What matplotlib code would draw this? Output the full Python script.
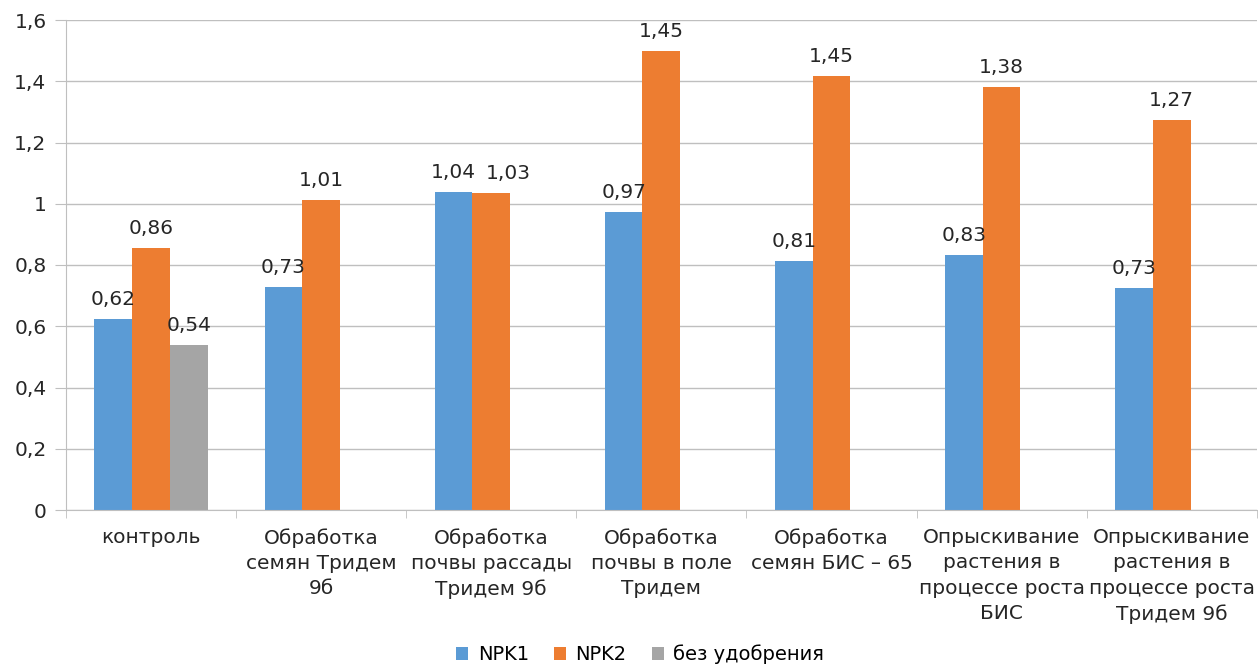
import matplotlib
matplotlib.use("Agg")
import matplotlib.pyplot as plt
import numpy as np

categories = [
    "контроль",
    "Обработка\nсемян Тридем\n9б",
    "Обработка\nпочвы рассады\nТридем 9б",
    "Обработка\nпочвы в поле\nТридем",
    "Обработка\nсемян БИС – 65",
    "Опрыскивание\nрастения в\nпроцессе роста\nБИС",
    "Опрыскивание\nрастения в\nпроцессе роста\nТридем 9б",
]
series_names = ["NPK1", "NPK2", "без удобрения"]
npk1 = [0.624, 0.728, 1.038, 0.973, 0.813, 0.833, 0.725]
npk2 = [0.855, 1.012, 1.035, 1.499, 1.417, 1.381, 1.273]
no_fert = [0.539, None, None, None, None, None, None]
npk1_labels = ["0,62", "0,73", "1,04", "0,97", "0,81", "0,83", "0,73"]
npk2_labels = ["0,86", "1,01", "1,03", "1,45", "1,45", "1,38", "1,27"]
no_fert_labels = ["0,54", "", "", "", "", "", ""]
yticks = [0, 0.2, 0.4, 0.6, 0.8, 1.0, 1.2, 1.4, 1.6]
ytick_labels = ["0", "0,2", "0,4", "0,6", "0,8", "1", "1,2", "1,4", "1,6"]

colors = ["#5B9BD5", "#ED7D31", "#A5A5A5"]
txt = "#262626"

plt.rcParams['font.family'] = ['DejaVu Sans']
fig = plt.figure(figsize=(12.58, 6.66), dpi=100)
ax = fig.add_axes([66/1258, 156/666, 1 - 66/1258 - 0.001, (510-20)/666])

x = np.arange(len(categories))
w = 0.222
all_series = [npk1, npk2, no_fert]
all_labels = [npk1_labels, npk2_labels, no_fert_labels]
for i, (vals, labs) in enumerate(zip(all_series, all_labels)):
    xs = x + (i - 1) * w
    v = np.array([np.nan if a is None else a for a in vals], dtype=float)
    ax.bar(xs, np.nan_to_num(v), width=w, color=colors[i], label=series_names[i], zorder=2)
    for k, (xi, vi, li) in enumerate(zip(xs, v, labs)):
        if not np.isnan(vi) and li:
            dx = 0
            # nudge neighbouring labels apart where two bars are nearly equal
            if i == 1 and k < len(npk1) and abs(npk1[k] - vi) < 0.05:
                dx = 12
            ax.annotate(li, (xi, vi), xytext=(dx, 7), textcoords="offset points",
                        ha="center", va="bottom", fontsize=14.5, color=txt)

ax.set_xlim(-0.5, len(categories) - 0.5)
ax.set_ylim(0, 1.6)
ax.set_yticks(yticks)
ax.set_yticklabels(ytick_labels, fontsize=14.5, color=txt)
ax.yaxis.grid(True, color="#BFBFBF", linewidth=1, zorder=0)
ax.set_axisbelow(True)

ax.set_xticks(x)
ax.set_xticklabels(categories, fontsize=14.5, color=txt, linespacing=1.42, va="top")
ax.set_xticks(np.arange(len(categories) + 1) - 0.5, minor=True)
ax.tick_params(axis="x", which="major", length=0, pad=13)
ax.tick_params(axis="x", which="minor", length=6, color="#BFBFBF")
ax.tick_params(axis="y", length=8, color="#BFBFBF", pad=6)

for s in ["top", "right"]:
    ax.spines[s].set_visible(False)
ax.spines["left"].set_color("#BFBFBF")
ax.spines["bottom"].set_color("#BFBFBF")

fig.legend(loc="lower center", bbox_to_anchor=(0.509, -0.024), ncol=3, frameon=False,
           fontsize=14, handlelength=0.6, handleheight=0.6, columnspacing=1.3, handletextpad=0.5)

fig.savefig("out.png", dpi=100)
